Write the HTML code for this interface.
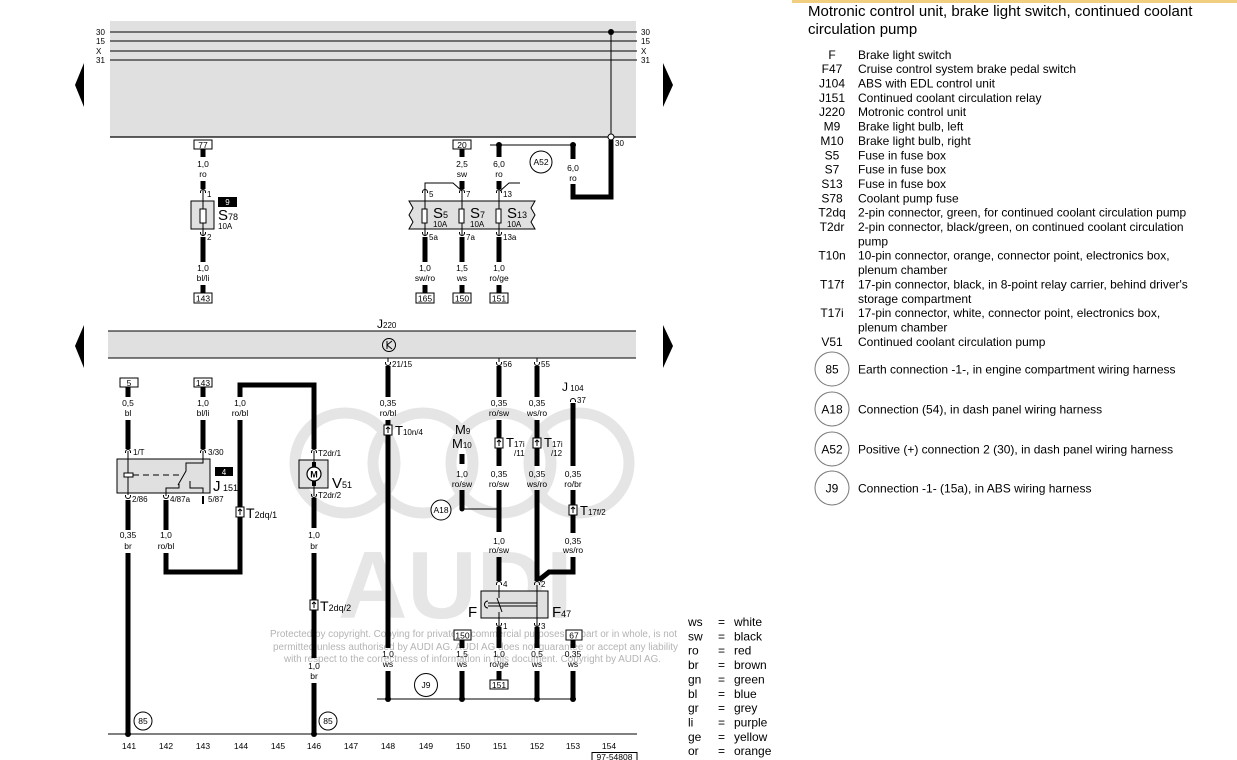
<!DOCTYPE html>
<html><head><meta charset="utf-8">
<style>
html,body{margin:0;padding:0;background:#fff;}
svg{display:block;}
text{font-family:"Liberation Sans",Arial,sans-serif;fill:#000;}
.tk{stroke:#000;stroke-width:5;fill:none;}
.tn{stroke:#000;stroke-width:1;fill:none;}
.w{font-size:8.5px;text-anchor:middle;}
.p{font-size:8px;}
.b{font-size:8.5px;text-anchor:middle;}
.lg{font-size:12px;}
.lc{font-size:12px;text-anchor:middle;}
.wm{fill:#e6e6e6;}
.cp{fill:#b4b4b4;font-size:10px;}
.wt{fill:#fff;font-size:8px;text-anchor:middle;}
</style></head><body>
<svg width="1237" height="760" viewBox="0 0 1237 760" xmlns="http://www.w3.org/2000/svg">
<rect x="0" y="0" width="1237" height="760" fill="#fff"/>
<rect x="792" y="0" width="445" height="3" fill="#f2cf80"/>

<!-- watermark -->
<g fill="none" stroke="#e5e5e5" stroke-width="11">
<circle cx="345" cy="463" r="50"/>
<circle cx="423" cy="463" r="50"/>
<circle cx="501" cy="463" r="50"/>
<circle cx="579" cy="463" r="50"/>
</g>
<text class="wm" x="338" y="618" font-size="96" font-weight="bold">AUDI</text>
<text class="cp" x="270" y="637" textLength="407" lengthAdjust="spacingAndGlyphs">Protected by copyright. Copying for private or commercial purposes, in part or in whole, is not</text>
<text class="cp" x="273" y="650" textLength="405" lengthAdjust="spacingAndGlyphs">permitted unless authorised by AUDI AG. AUDI AG does not guarantee or accept any liability</text>
<text class="cp" x="284" y="662" textLength="377" lengthAdjust="spacingAndGlyphs">with respect to the correctness of information in this document. Copyright by AUDI AG.</text>

<!-- TOP PANEL -->
<rect x="110" y="21" width="526" height="116" fill="#e0e0e0"/>
<line x1="110" y1="137" x2="636" y2="137" stroke="#000" stroke-width="1.3"/>
<path class="tn" d="M110 32H637M110 41H637M110 51H637M110 60H637"/>
<g class="p">
<text x="96" y="35">30</text><text x="96" y="44">15</text><text x="96" y="54">X</text><text x="96" y="63">31</text>
<text x="641" y="35">30</text><text x="641" y="44">15</text><text x="641" y="54">X</text><text x="641" y="63">31</text>
</g>
<polygon points="75,85 84,63 84,107"/>
<polygon points="673,85 663,63 663,107"/>
<polygon points="75,346 84,325 84,368"/>
<polygon points="673,346 663,325 663,368"/>

<line x1="611" y1="32" x2="611" y2="134" class="tn"/>
<circle cx="611" cy="32" r="3"/>
<path class="tk" d="M611 140V197H573V184M573 145V159"/>
<circle cx="611" cy="137" r="3" fill="#fff" stroke="#000" stroke-width="1"/>
<text class="p" x="615" y="146">30</text>
<path class="tn" d="M490 145H573"/>
<circle cx="499" cy="145" r="3"/><circle cx="573" cy="145" r="3"/>
<circle cx="541" cy="162" r="11" fill="#fff" stroke="#000" stroke-width="1"/>
<text class="b" x="541" y="165">A52</text>
<text class="w" x="573" y="171">6,0</text><text class="w" x="573" y="181">ro</text>

<!-- top thick wires -->
<path class="tk" d="M203 149V157M203 181V189M203 237V262M203 285V293
M425 237V262M425 285V293
M462 149V157M462 181V189M462 237V262M462 285V293
M499 145V157M499 181V189M499 237V262M499 285V293"/>

<!-- S78 -->
<rect x="194" y="140" width="18" height="9" fill="#fff" stroke="#000"/>
<text class="b" x="203" y="148">77</text>
<text class="w" x="203" y="167">1,0</text><text class="w" x="203" y="177">ro</text>
<rect x="191" y="201" width="23" height="28" fill="#e0e0e0" stroke="#000"/>
<path class="tn" d="M203 190V236"/>
<rect x="200" y="209" width="6" height="14" fill="#fff" stroke="#000"/>
<rect x="218" y="197" width="19" height="10" fill="#000"/>
<text class="wt" x="227.5" y="205">9</text>
<text x="218" y="220" font-size="15">S<tspan font-size="9">78</tspan></text>
<text class="p" x="218" y="229">10A</text>
<text class="p" x="207" y="197">1</text>
<text class="p" x="207" y="240">2</text>
<text class="w" x="203" y="271">1,0</text><text class="w" x="203" y="281">bl/li</text>
<rect x="194" y="293" width="18" height="10" fill="#fff" stroke="#000"/>
<text class="b" x="203" y="301.5">143</text>

<!-- S5/S7/S13 -->
<rect x="453" y="140" width="18" height="9" fill="#fff" stroke="#000"/>
<text class="b" x="462" y="148">20</text>
<text class="w" x="462" y="167">2,5</text><text class="w" x="462" y="177">sw</text>
<text class="w" x="499" y="167">6,0</text><text class="w" x="499" y="177">ro</text>
<path class="tn" d="M425 191V183H453L462 191M500 191L509 183H520"/>
<path d="M409 201H535L531 208L535 215L531 222L535 229H409L413 222L409 215L413 208Z" fill="#e0e0e0" stroke="#000" stroke-width="1"/>
<path class="tn" d="M425 190V236M462 190V236M499 190V236"/>
<rect x="422" y="209" width="5" height="14" fill="#fff" stroke="#000"/>
<rect x="459" y="209" width="5" height="14" fill="#fff" stroke="#000"/>
<rect x="496" y="209" width="5" height="14" fill="#fff" stroke="#000"/>
<text x="433" y="218" font-size="15">S<tspan font-size="9">5</tspan></text>
<text x="470" y="218" font-size="15">S<tspan font-size="9">7</tspan></text>
<text x="507" y="218" font-size="15">S<tspan font-size="9">13</tspan></text>
<text class="p" x="433" y="227">10A</text><text class="p" x="470" y="227">10A</text><text class="p" x="507" y="227">10A</text>
<text class="p" x="429" y="197">5</text><text class="p" x="466" y="197">7</text><text class="p" x="503" y="197">13</text>
<text class="p" x="429" y="240">5a</text><text class="p" x="466" y="240">7a</text><text class="p" x="503" y="240">13a</text>
<text class="w" x="425" y="271">1,0</text><text class="w" x="425" y="281">sw/ro</text>
<text class="w" x="462" y="271">1,5</text><text class="w" x="462" y="281">ws</text>
<text class="w" x="499" y="271">1,0</text><text class="w" x="499" y="281">ro/ge</text>
<rect x="416" y="293" width="18" height="10" fill="#fff" stroke="#000"/><text class="b" x="425" y="301.5">165</text>
<rect x="453" y="293" width="18" height="10" fill="#fff" stroke="#000"/><text class="b" x="462" y="301.5">150</text>
<rect x="490" y="293" width="18" height="10" fill="#fff" stroke="#000"/><text class="b" x="499" y="301.5">151</text>

<!-- top caps -->
<path class="tn" stroke-width="1.2" d="M200.5 193v-1a2.5 2.5 0 0 1 5 0v1M422.5 193v-1a2.5 2.5 0 0 1 5 0v1M459.5 193v-1a2.5 2.5 0 0 1 5 0v1M496.5 193v-1a2.5 2.5 0 0 1 5 0v1
M200.5 232v1a2.5 2.5 0 0 0 5 0v-1M422.5 232v1a2.5 2.5 0 0 0 5 0v-1M459.5 232v1a2.5 2.5 0 0 0 5 0v-1M496.5 232v1a2.5 2.5 0 0 0 5 0v-1"/>

<!-- LOWER PANEL J220 -->
<rect x="108" y="331" width="528" height="27" fill="#e0e0e0"/>
<path class="tn" stroke-width="1.2" d="M108 331H636M108 358H636"/>
<text x="377" y="328" font-size="12">J<tspan font-size="8">220</tspan></text>
<circle cx="389" cy="345" r="6.5" fill="none" stroke="#000" stroke-width="1"/>
<path class="tn" d="M387 341V349M387 345L392 341M387 345L392 349"/>

<!-- lower thick wires -->
<path class="tk" d="M128 387V397M128 420V449M128 500V530M128 553V734
M203 387V397M203 420V449
M240 397V385H314V449M240 420V572H166V553M166 500V530
M314 498V528M314 553V658M314 683V734
M388 366V397M388 420V648M388 671V699
M462 454V464M462 490V509M462 640V648M462 671V699
M499 366V397M499 420V466M499 490V532M499 557V581M499 627V648M499 671V680
M537 366V397M537 420V466M537 490V581M537 627V648M537 671V699
M573 403V466M573 490V533M573 557V572H549L539 580M573 640V648M573 671V699"/>

<!-- J151 relay -->
<rect x="120" y="378" width="18" height="9" fill="#fff" stroke="#000"/><text class="b" x="129" y="386">5</text>
<rect x="194" y="378" width="18" height="9" fill="#fff" stroke="#000"/><text class="b" x="203" y="386">143</text>
<text class="w" x="128" y="406">0,5</text><text class="w" x="128" y="416">bl</text>
<text class="w" x="203" y="406">1,0</text><text class="w" x="203" y="416">bl/li</text>
<text class="w" x="240" y="406">1,0</text><text class="w" x="240" y="416">ro/bl</text>
<rect x="117" y="459" width="93" height="34" fill="#e0e0e0" stroke="#000" stroke-width="1"/>
<path class="tn" d="M128 451V493M203 451V463H186V471L178 485M166 496V488H179V484M203 493V488H190V481"/>
<path class="tn" stroke-dasharray="6,4" d="M133 475H180"/>
<rect x="124" y="473" width="9" height="4" fill="#fff" stroke="#000"/>
<path d="M203 496V504" stroke="#000" stroke-width="2"/>
<rect x="215" y="467" width="18" height="9" fill="#000"/>
<text class="wt" x="224" y="475">4</text>
<text x="213" y="491" font-size="15">J<tspan font-size="9"> 151</tspan></text>
<text class="p" x="133" y="455">1/T</text><text class="p" x="208" y="455">3/30</text>
<text class="p" x="132" y="502">2/86</text><text class="p" x="170" y="502">4/87a</text><text class="p" x="208" y="502">5/87</text>
<text class="w" x="128" y="538">0,35</text><text class="w" x="128" y="549">br</text>
<text class="w" x="166" y="538">1,0</text><text class="w" x="166" y="549">ro/bl</text>

<!-- V51 -->
<rect x="299" y="460" width="29" height="28" fill="#e0e0e0" stroke="#000" stroke-width="1"/>
<path class="tn" d="M314 451V467M314 481V496"/>
<rect x="312" y="462" width="4" height="5"/><rect x="312" y="481" width="4" height="5"/>
<circle cx="314" cy="474" r="7" fill="#fff" stroke="#000" stroke-width="1.2"/>
<text x="314" y="477.5" font-size="9" font-weight="bold" text-anchor="middle">M</text>
<text x="332" y="488" font-size="15">V<tspan font-size="9">51</tspan></text>
<text class="p" x="318" y="456">T2dr/1</text><text class="p" x="318" y="498">T2dr/2</text>
<text class="w" x="314" y="538">1,0</text><text class="w" x="314" y="549">br</text>
<text class="w" x="314" y="669">1,0</text><text class="w" x="314" y="679">br</text>

<!-- T connectors -->
<g fill="#fff" stroke="#000" stroke-width="1">
<rect x="236" y="507" width="8" height="10"/>
<rect x="310" y="600" width="8" height="10"/>
<rect x="384" y="425" width="8" height="10"/>
<rect x="495" y="438" width="8" height="10"/>
<rect x="533" y="438" width="8" height="10"/>
<rect x="569" y="505" width="8" height="10"/>
</g>
<path class="tn" d="M240 515V509M238 511L240 509L242 511M314 608V602M312 604L314 602L316 604M388 433V427M386 429L388 427L390 429M499 446V440M497 442L499 440L501 442M537 446V440M535 442L537 440L539 442M573 513V507M571 509L573 507L575 509"/>
<text x="246" y="518" font-size="14">T<tspan font-size="9">2dq/1</tspan></text>
<text x="320" y="611" font-size="14">T<tspan font-size="9">2dq/2</tspan></text>
<text x="395" y="435" font-size="13">T<tspan font-size="8">10n/4</tspan></text>
<text x="506" y="447" font-size="13">T<tspan font-size="8">17i</tspan></text><text class="p" x="514" y="456">/11</text>
<text x="544" y="447" font-size="13">T<tspan font-size="8">17i</tspan></text><text class="p" x="551" y="456">/12</text>
<text x="580" y="515" font-size="13">T<tspan font-size="8">17f/2</tspan></text>

<!-- middle columns labels -->
<text class="p" x="392" y="367">21/15</text><text class="p" x="503" y="367">56</text><text class="p" x="541" y="367">55</text>
<text class="w" x="388" y="406">0,35</text><text class="w" x="388" y="416">ro/bl</text>
<text class="w" x="499" y="406">0,35</text><text class="w" x="499" y="416">ro/sw</text>
<text class="w" x="537" y="406">0,35</text><text class="w" x="537" y="416">ws/ro</text>
<text x="562" y="391" font-size="12">J<tspan font-size="8"> 104</tspan></text>
<text class="p" x="577" y="403">37</text>
<text x="455" y="434" font-size="13">M<tspan font-size="8">9</tspan></text>
<text x="452" y="448" font-size="13">M<tspan font-size="8">10</tspan></text>
<text class="w" x="462" y="477">1,0</text><text class="w" x="462" y="487">ro/sw</text>
<text class="w" x="499" y="477">0,35</text><text class="w" x="499" y="487">ro/sw</text>
<text class="w" x="537" y="477">0,35</text><text class="w" x="537" y="487">ws/ro</text>
<text class="w" x="573" y="477">0,35</text><text class="w" x="573" y="487">ro/br</text>
<text class="w" x="499" y="544">1,0</text><text class="w" x="499" y="553">ro/sw</text>
<text class="w" x="573" y="544">0,35</text><text class="w" x="573" y="553">ws/ro</text>
<path class="tn" d="M462 509H499"/>
<circle cx="462" cy="509" r="2.5"/>
<circle cx="441" cy="510" r="10" fill="#fff" stroke="#000" stroke-width="1"/>
<text class="b" x="441" y="513">A18</text>

<!-- F / F47 -->
<rect x="481" y="591" width="67" height="27" fill="#e0e0e0" stroke="#000" stroke-width="1"/>
<path class="tn" d="M499 585V598M499 612V626M537 585V626M488 603H537M488 606H537M497 598L502 612"/>
<path class="tn" stroke-width="1.3" d="M488 601A3 3 0 1 0 488 608"/>
<text x="468" y="617" font-size="15">F</text>
<text x="552" y="617" font-size="15">F<tspan font-size="9">47</tspan></text>
<text class="p" x="503" y="587">4</text><text class="p" x="541" y="587">2</text>
<text class="p" x="503" y="629">1</text><text class="p" x="541" y="629">3</text>

<!-- lower caps -->
<path class="tn" stroke-width="1.2" d="M125.5 453v-1a2.5 2.5 0 0 1 5 0v1M200.5 453v-1a2.5 2.5 0 0 1 5 0v1M311.5 453v-1a2.5 2.5 0 0 1 5 0v1
M496.5 585v-1a2.5 2.5 0 0 1 5 0v1M534.5 585v-1a2.5 2.5 0 0 1 5 0v1M570.5 402v-1a2.5 2.5 0 0 1 5 0v1
M125.5 495v1a2.5 2.5 0 0 0 5 0v-1M163.5 495v1a2.5 2.5 0 0 0 5 0v-1M311.5 494v1a2.5 2.5 0 0 0 5 0v-1
M385.5 362v1a2.5 2.5 0 0 0 5 0v-1M496.5 362v1a2.5 2.5 0 0 0 5 0v-1M534.5 362v1a2.5 2.5 0 0 0 5 0v-1
M496.5 623v1a2.5 2.5 0 0 0 5 0v-1M534.5 623v1a2.5 2.5 0 0 0 5 0v-1"/>
<path class="tn" d="M128 493V495M166 493V495M314 488V494M388 358V362M499 358V362M537 358V362"/>

<!-- bottom -->
<rect x="454" y="630" width="17" height="10" fill="#fff" stroke="#000"/><text class="b" x="462.5" y="638.5">150</text>
<rect x="566" y="630" width="16" height="10" fill="#fff" stroke="#000"/><text class="b" x="574" y="638.5">67</text>
<text class="w" x="388" y="657">1,0</text><text class="w" x="388" y="667">ws</text>
<text class="w" x="462" y="657">1,5</text><text class="w" x="462" y="667">ws</text>
<text class="w" x="499" y="657">1,0</text><text class="w" x="499" y="667">ro/ge</text>
<text class="w" x="537" y="657">0,5</text><text class="w" x="537" y="667">ws</text>
<text class="w" x="573" y="657">0,35</text><text class="w" x="573" y="667">ws</text>
<rect x="490" y="680" width="18" height="9" fill="#fff" stroke="#000"/><text class="b" x="499" y="688">151</text>
<circle cx="426" cy="685" r="11.5" fill="#fff" stroke="#000" stroke-width="1"/>
<text class="b" x="426" y="688">J9</text>
<path class="tn" d="M377 699H575"/>
<circle cx="388" cy="699" r="3"/><circle cx="462" cy="699" r="3"/><circle cx="537" cy="699" r="3"/><circle cx="573" cy="699" r="3"/>

<path class="tn" stroke-width="1.2" d="M108 734H637"/>
<circle cx="128" cy="734" r="3"/><circle cx="314" cy="734" r="3"/>
<circle cx="143" cy="721" r="9" fill="#fff" stroke="#000" stroke-width="1"/><text class="b" x="143" y="724">85</text>
<circle cx="328" cy="721" r="9" fill="#fff" stroke="#000" stroke-width="1"/><text class="b" x="328" y="724">85</text>
<g class="b">
<text x="129" y="749">141</text><text x="166" y="749">142</text><text x="203" y="749">143</text><text x="241" y="749">144</text>
<text x="278" y="749">145</text><text x="314" y="749">146</text><text x="351" y="749">147</text><text x="388" y="749">148</text>
<text x="426" y="749">149</text><text x="463" y="749">150</text><text x="500" y="749">151</text><text x="537" y="749">152</text>
<text x="573" y="749">153</text><text x="609" y="749">154</text>
</g>
<rect x="592" y="752.5" width="45" height="10" fill="#fff" stroke="#000"/>
<text class="b" x="614.5" y="760">97-54808</text>

<!-- color legend -->
<g class="lg">
<text x="688" y="626">ws</text><text x="718" y="626">=</text><text x="734" y="626">white</text>
<text x="688" y="640.4">sw</text><text x="718" y="640.4">=</text><text x="734" y="640.4">black</text>
<text x="688" y="654.7">ro</text><text x="718" y="654.7">=</text><text x="734" y="654.7">red</text>
<text x="688" y="669.1">br</text><text x="718" y="669.1">=</text><text x="734" y="669.1">brown</text>
<text x="688" y="683.4">gn</text><text x="718" y="683.4">=</text><text x="734" y="683.4">green</text>
<text x="688" y="697.8">bl</text><text x="718" y="697.8">=</text><text x="734" y="697.8">blue</text>
<text x="688" y="712.1">gr</text><text x="718" y="712.1">=</text><text x="734" y="712.1">grey</text>
<text x="688" y="726.5">li</text><text x="718" y="726.5">=</text><text x="734" y="726.5">purple</text>
<text x="688" y="740.8">ge</text><text x="718" y="740.8">=</text><text x="734" y="740.8">yellow</text>
<text x="688" y="755.2">or</text><text x="718" y="755.2">=</text><text x="734" y="755.2">orange</text>
</g>

<!-- right legend -->
<text x="808" y="16" font-size="15">Motronic control unit, brake light switch, continued coolant</text>
<text x="808" y="34" font-size="15">circulation pump</text>
<g class="lc">
<text x="832" y="58.8">F</text><text x="832" y="73.2">F47</text><text x="832" y="87.5">J104</text>
<text x="832" y="101.9">J151</text><text x="832" y="116.2">J220</text><text x="832" y="130.6">M9</text>
<text x="832" y="144.9">M10</text><text x="832" y="159.3">S5</text><text x="832" y="173.6">S7</text>
<text x="832" y="188">S13</text><text x="832" y="202.3">S78</text><text x="832" y="216.7">T2dq</text>
<text x="832" y="231">T2dr</text><text x="832" y="259.7">T10n</text><text x="832" y="288.4">T17f</text>
<text x="832" y="317.1">T17i</text><text x="832" y="345.8">V51</text>
</g>
<g class="lg">
<text x="858" y="58.8">Brake light switch</text>
<text x="858" y="73.2">Cruise control system brake pedal switch</text>
<text x="858" y="87.5">ABS with EDL control unit</text>
<text x="858" y="101.9">Continued coolant circulation relay</text>
<text x="858" y="116.2">Motronic control unit</text>
<text x="858" y="130.6">Brake light bulb, left</text>
<text x="858" y="144.9">Brake light bulb, right</text>
<text x="858" y="159.3">Fuse in fuse box</text>
<text x="858" y="173.6">Fuse in fuse box</text>
<text x="858" y="188">Fuse in fuse box</text>
<text x="858" y="202.3">Coolant pump fuse</text>
<text x="858" y="216.7">2-pin connector, green, for continued coolant circulation pump</text>
<text x="858" y="231">2-pin connector, black/green, on continued coolant circulation</text>
<text x="858" y="245.4">pump</text>
<text x="858" y="259.7">10-pin connector, orange, connector point, electronics box,</text>
<text x="858" y="274.1">plenum chamber</text>
<text x="858" y="288.4">17-pin connector, black, in 8-point relay carrier, behind driver's</text>
<text x="858" y="302.8">storage compartment</text>
<text x="858" y="317.1">17-pin connector, white, connector point, electronics box,</text>
<text x="858" y="331.5">plenum chamber</text>
<text x="858" y="345.8">Continued coolant circulation pump</text>
<text x="858" y="373.5">Earth connection -1-, in engine compartment wiring harness</text>
<text x="858" y="413.5">Connection (54), in dash panel wiring harness</text>
<text x="858" y="453.5">Positive (+) connection 2 (30), in dash panel wiring harness</text>
<text x="858" y="492.5">Connection -1- (15a), in ABS wiring harness</text>
</g>
<g fill="none" stroke="#777" stroke-width="1">
<circle cx="832" cy="369" r="17"/><circle cx="832" cy="409" r="17"/>
<circle cx="832" cy="449" r="17"/><circle cx="832" cy="488" r="17"/>
</g>
<g class="lc">
<text x="832" y="373.5">85</text><text x="832" y="413.5">A18</text>
<text x="832" y="453.5">A52</text><text x="832" y="492.5">J9</text>
</g>
</svg>
</body></html>
